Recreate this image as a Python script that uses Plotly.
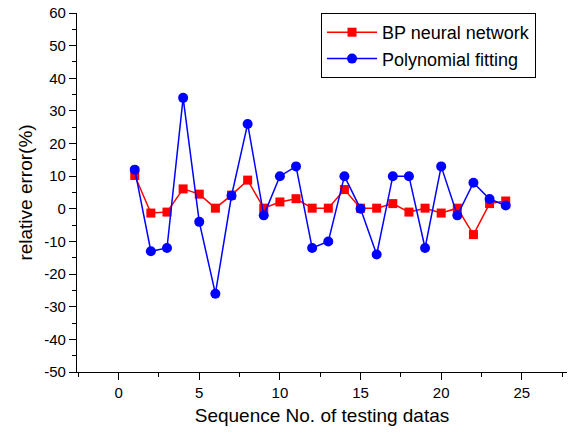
import plotly.graph_objects as go

seq = list(range(1, 25))
bp_error = [10.2, -1.3, -1.0, 6.1, 4.5, 0.2, 4.2, 8.8, 0.2, 2.1, 3.1, 0.2,
            0.2, 5.9, 0.2, 0.2, 1.6, -1.0, 0.2, -1.3, 0.2, -7.9, 1.6, 2.4]
poly_error = [12, -13, -12, 34, -4, -26, 4, 26, -2, 10, 13, -12,
              -10, 10, 0, -14, 10, 10, -12, 13, -2, 8, 3, 1]

x_ticks = [0, 5, 10, 15, 20, 25]
y_ticks = [-50, -40, -30, -20, -10, 0, 10, 20, 30, 40, 50, 60]

FONT = "Liberation Sans, Arial, sans-serif"

fig = go.Figure()
fig.add_trace(go.Scatter(
    x=seq, y=bp_error, mode="lines+markers", name="BP neural network",
    line=dict(color="#ff0000", width=1.5),
    marker=dict(symbol="square", size=9, color="#ff0000"),
))
fig.add_trace(go.Scatter(
    x=seq, y=poly_error, mode="lines+markers", name="Polynomial fitting",
    line=dict(color="#0000ff", width=1.5),
    marker=dict(symbol="circle", size=10, color="#0000ff"),
))

axis_common = dict(
    showgrid=False, zeroline=False, showline=True, linecolor="black",
    linewidth=1.2, ticks="outside", ticklen=7, tickwidth=1.2, tickcolor="black",
    tickfont=dict(family=FONT, size=15, color="black"),
    mirror=False, automargin=False,
)

fig.update_xaxes(
    range=[-2.58, 27.8], tickmode="array", tickvals=x_ticks,
    ticktext=[str(t) for t in x_ticks],
    minor=dict(ticks="outside", ticklen=4, tickwidth=1.2, tickcolor="black", dtick=2.5, tick0=0),
    title=dict(text="Sequence No. of testing datas", font=dict(family=FONT, size=19, color="black"), standoff=8),
    **axis_common,
)
fig.update_yaxes(
    range=[-50, 60], tickmode="array", tickvals=y_ticks,
    ticktext=[str(t) for t in y_ticks],
    minor=dict(ticks="outside", ticklen=4, tickwidth=1.2, tickcolor="black", dtick=5, tick0=0),
    title=dict(text="relative error(%)", font=dict(family=FONT, size=19, color="black"), standoff=6),
    **axis_common,
)

fig.update_layout(
    width=569, height=437,
    margin=dict(l=77, r=2, t=13, b=65, autoexpand=False),
    paper_bgcolor="white", plot_bgcolor="white",
    font=dict(family=FONT, color="black"),
    legend=dict(
        x=0.498, y=1.0, xanchor="left", yanchor="top",
        bordercolor="black", borderwidth=1, bgcolor="white",
        font=dict(family=FONT, size=18, color="black"),
        tracegroupgap=0, itemwidth=50,
    ),
    showlegend=True,
)

# remove the page's default 8px body margin so the figure fills the window
fig.write_html("out.html", config={"displayModeBar": False},
               post_script="document.body.style.margin='0';")
